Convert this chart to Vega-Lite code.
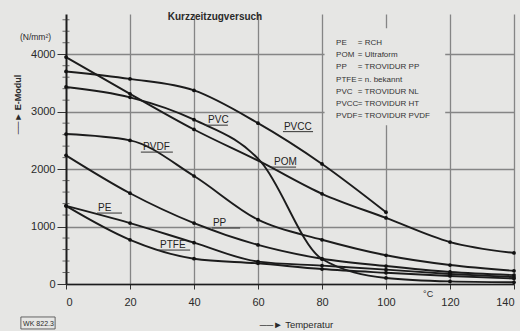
{
  "$schema": "https://vega.github.io/schema/vega-lite/v6.json",
  "width": 448,
  "height": 270,
  "autosize": {"type": "none"},
  "padding": {"left": 66, "top": 14, "right": 6, "bottom": 47},
  "background": "#e6e6e4",
  "config": {"view": {"stroke": null}, "font": "Liberation Sans"},
  "title": {"text": "Kurzzeitzugversuch", "fontSize": 10, "fontWeight": "bold", "color": "#2a2a2a", "anchor": "middle", "dx": -75, "dy": 16, "offset": 0, "baseline": "alphabetic"},
  "datasets": {
    "curves": [
      {"s": "PVCC", "t": 0, "v": 3700}, {"s": "PVCC", "t": 20, "v": 3570}, {"s": "PVCC", "t": 40, "v": 3370}, {"s": "PVCC", "t": 60, "v": 2800}, {"s": "PVCC", "t": 80, "v": 2090}, {"s": "PVCC", "t": 100, "v": 1250},
      {"s": "POM", "t": 0, "v": 3950}, {"s": "POM", "t": 20, "v": 3310}, {"s": "POM", "t": 40, "v": 2690}, {"s": "POM", "t": 61, "v": 2120}, {"s": "POM", "t": 80, "v": 1570}, {"s": "POM", "t": 100, "v": 1150}, {"s": "POM", "t": 120, "v": 730}, {"s": "POM", "t": 140, "v": 540},
      {"s": "PVC", "t": 0, "v": 3430}, {"s": "PVC", "t": 20, "v": 3250}, {"s": "PVC", "t": 40, "v": 2860}, {"s": "PVC", "t": 61, "v": 2120}, {"s": "PVC", "t": 80, "v": 435}, {"s": "PVC", "t": 100, "v": 105}, {"s": "PVC", "t": 120, "v": 45}, {"s": "PVC", "t": 140, "v": 30},
      {"s": "PVDF", "t": 0, "v": 2610}, {"s": "PVDF", "t": 20, "v": 2500}, {"s": "PVDF", "t": 40, "v": 1880}, {"s": "PVDF", "t": 60, "v": 1120}, {"s": "PVDF", "t": 80, "v": 770}, {"s": "PVDF", "t": 100, "v": 500}, {"s": "PVDF", "t": 120, "v": 330}, {"s": "PVDF", "t": 140, "v": 230},
      {"s": "PP", "t": 0, "v": 2240}, {"s": "PP", "t": 20, "v": 1580}, {"s": "PP", "t": 40, "v": 1060}, {"s": "PP", "t": 60, "v": 680}, {"s": "PP", "t": 80, "v": 440}, {"s": "PP", "t": 100, "v": 313}, {"s": "PP", "t": 120, "v": 210}, {"s": "PP", "t": 140, "v": 155},
      {"s": "PE", "t": 0, "v": 1360}, {"s": "PE", "t": 20, "v": 1060}, {"s": "PE", "t": 40, "v": 720}, {"s": "PE", "t": 60, "v": 390}, {"s": "PE", "t": 80, "v": 320}, {"s": "PE", "t": 100, "v": 250}, {"s": "PE", "t": 120, "v": 175}, {"s": "PE", "t": 140, "v": 120},
      {"s": "PTFE", "t": 0, "v": 1360}, {"s": "PTFE", "t": 20, "v": 770}, {"s": "PTFE", "t": 40, "v": 440}, {"s": "PTFE", "t": 60, "v": 360}, {"s": "PTFE", "t": 80, "v": 260}, {"s": "PTFE", "t": 100, "v": 195}, {"s": "PTFE", "t": 120, "v": 140}, {"s": "PTFE", "t": 140, "v": 95}
    ],
    "labels": [
      {"name": "PVC", "t": 44.4, "v": 2800, "u1": 43.4, "u2": 50.6, "uv": 2765},
      {"name": "PVCC", "t": 68.1, "v": 2687, "u1": 67.8, "u2": 77.2, "uv": 2652},
      {"name": "POM", "t": 65, "v": 2070, "u1": 63.8, "u2": 71.9, "uv": 2035},
      {"name": "PVDF", "t": 24.1, "v": 2330, "u1": 23.4, "u2": 33.4, "uv": 2296},
      {"name": "PP", "t": 45.9, "v": 1009, "u1": 45.6, "u2": 54.4, "uv": 974},
      {"name": "PE", "t": 10, "v": 1270, "u1": 9.7, "u2": 17.5, "uv": 1235},
      {"name": "PTFE", "t": 29.4, "v": 626, "u1": 28.8, "u2": 38.8, "uv": 591}
    ],
    "minor": [
      {"v": 200}, {"v": 400}, {"v": 600}, {"v": 800}, {"v": 1200}, {"v": 1400}, {"v": 1600}, {"v": 1800},
      {"v": 2200}, {"v": 2400}, {"v": 2600}, {"v": 2800}, {"v": 3200}, {"v": 3400}, {"v": 3600}, {"v": 3800},
      {"v": 4200}, {"v": 4400}, {"v": 4600}
    ],
    "box": [{"t1": 80.8, "t2": 118.5, "v1": 2765, "v2": 4452}],
    "frame": [{"t1": -14.1, "t2": -3.4, "v1": -574, "v2": -783}],
    "legend": [
      {"txt": "PE", "t": 84.4, "v": 4157}, {"txt": "= RCH", "t": 91.2, "v": 4157},
      {"txt": "POM", "t": 84.4, "v": 3948}, {"txt": "= Ultraform", "t": 91.2, "v": 3948},
      {"txt": "PP", "t": 84.4, "v": 3739}, {"txt": "= TROVIDUR PP", "t": 91.2, "v": 3739},
      {"txt": "PTFE", "t": 84.4, "v": 3513}, {"txt": "= n. bekannt", "t": 91.2, "v": 3513},
      {"txt": "PVC", "t": 84.4, "v": 3304}, {"txt": "= TROVIDUR NL", "t": 91.2, "v": 3304},
      {"txt": "PVCC", "t": 84.4, "v": 3096}, {"txt": "= TROVIDUR HT", "t": 91.2, "v": 3096},
      {"txt": "PVDF", "t": 84.4, "v": 2887}, {"txt": "= TROVIDUR PVDF", "t": 91.2, "v": 2887}
    ],
    "notes": [
      {"txt": "(N/mm²)", "t": -14.4, "v": 4243, "fs": 8.5},
      {"txt": "°C", "t": 111.6, "v": -226, "fs": 9},
      {"txt": "WK 822.3", "t": -13.4, "v": -730, "fs": 7}
    ]
  },
  "layer": [
    {
      "data": {"name": "curves"},
      "mark": {"type": "line", "interpolate": "monotone", "color": "#1c1c1c", "strokeWidth": 1.9},
      "encoding": {
        "detail": {"field": "s", "type": "nominal"},
        "x": {
          "field": "t", "type": "quantitative",
          "scale": {"domain": [0, 140], "nice": false},
          "axis": {
            "values": [0, 10, 20, 30, 40, 50, 60, 70, 80, 90, 100, 110, 120, 130, 140],
            "labelExpr": "datum.value % 20 === 0 ? datum.label : ''",
            "labelOverlap": false,
            "grid": true,
            "gridColor": "#858585",
            "gridWidth": 1.3,
            "gridOpacity": {"condition": {"test": "datum.value % 20 === 0 && datum.value > 0", "value": 1}, "value": 0},
            "tickColor": "#333",
            "tickSize": 5,
            "tickWidth": 1,
            "domainColor": "#1c1c1c",
            "domainWidth": 1.6,
            "labelFont": "Liberation Sans",
            "labelFontSize": 11,
            "labelColor": "#2a2a2a",
            "labelPadding": 7,
            "title": "──►  Temperatur",
            "titleX": 230,
            "titleY": 40,
            "titleAlign": "center",
            "titleBaseline": "middle",
            "titleFontSize": 9.5,
            "titleFontWeight": "normal",
            "titleColor": "#2a2a2a"
          }
        },
        "y": {
          "field": "v", "type": "quantitative",
          "scale": {"domain": [0, 4700], "nice": false},
          "axis": {
            "values": [0, 1000, 2000, 3000, 4000],
            "format": "d",
            "labelOverlap": false,
            "grid": true,
            "gridColor": "#858585",
            "gridWidth": 1.3,
            "tickColor": "#333",
            "tickSize": 9,
            "tickWidth": 1,
            "domainColor": "#1c1c1c",
            "domainWidth": 2,
            "labelFont": "Liberation Sans",
            "labelFontSize": 11,
            "labelColor": "#2a2a2a",
            "labelPadding": 2,
            "title": "──►    E-Modul",
            "titleAngle": -90,
            "titleX": -49,
            "titleY": 90,
            "titleAlign": "center",
            "titleBaseline": "middle",
            "titleFontSize": 9,
            "titleFontWeight": "bold",
            "titleColor": "#2a2a2a"
          }
        }
      }
    },
    {
      "data": {"name": "box"},
      "mark": {"type": "rect", "fill": "#e6e6e4"},
      "encoding": {
        "x": {"field": "t1", "type": "quantitative"},
        "x2": {"field": "t2"},
        "y": {"field": "v1", "type": "quantitative"},
        "y2": {"field": "v2"}
      }
    },
    {
      "data": {"name": "frame"},
      "mark": {"type": "rect", "fill": null, "stroke": "#444", "strokeWidth": 0.8},
      "encoding": {
        "x": {"field": "t1", "type": "quantitative"},
        "x2": {"field": "t2"},
        "y": {"field": "v1", "type": "quantitative"},
        "y2": {"field": "v2"}
      }
    },
    {
      "data": {"name": "minor"},
      "mark": {"type": "tick", "orient": "horizontal", "color": "#333", "thickness": 1, "size": 7},
      "encoding": {
        "y": {"field": "v", "type": "quantitative"},
        "x": {"datum": 0, "type": "quantitative"}
      }
    },
    {
      "data": {"name": "curves"},
      "transform": [{"filter": "datum.t % 20 === 0"}],
      "mark": {"type": "point", "filled": true, "size": 14, "color": "#111", "opacity": 1},
      "encoding": {
        "x": {"field": "t", "type": "quantitative"},
        "y": {"field": "v", "type": "quantitative"}
      }
    },
    {
      "data": {"name": "labels"},
      "mark": {"type": "text", "align": "left", "baseline": "alphabetic", "fontSize": 10, "color": "#222"},
      "encoding": {
        "x": {"field": "t", "type": "quantitative"},
        "y": {"field": "v", "type": "quantitative"},
        "text": {"field": "name"}
      }
    },
    {
      "data": {"name": "labels"},
      "mark": {"type": "rule", "color": "#333", "strokeWidth": 1},
      "encoding": {
        "x": {"field": "u1", "type": "quantitative"},
        "x2": {"field": "u2"},
        "y": {"field": "uv", "type": "quantitative"}
      }
    },
    {
      "data": {"name": "legend"},
      "mark": {"type": "text", "align": "left", "baseline": "alphabetic", "fontSize": 8, "color": "#333"},
      "encoding": {
        "x": {"field": "t", "type": "quantitative"},
        "y": {"field": "v", "type": "quantitative"},
        "text": {"field": "txt"}
      }
    },
    {
      "data": {"name": "notes"},
      "mark": {"type": "text", "align": "left", "baseline": "alphabetic", "color": "#2a2a2a"},
      "encoding": {
        "x": {"field": "t", "type": "quantitative"},
        "y": {"field": "v", "type": "quantitative"},
        "text": {"field": "txt"},
        "size": {"field": "fs", "type": "quantitative", "scale": null}
      }
    }
  ]
}
